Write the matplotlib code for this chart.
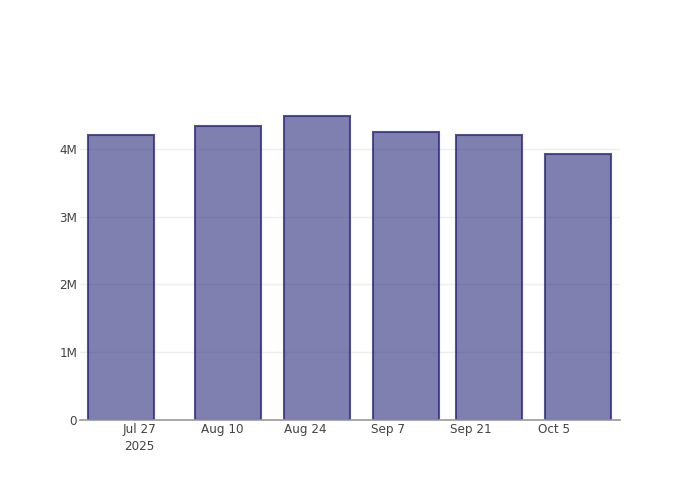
import matplotlib
matplotlib.use("Agg")
import matplotlib.pyplot as plt
import matplotlib.dates as mdates
import numpy as np
import datetime as dt

plt.rcParams['font.family'] = ['DejaVu Sans']

dates = ["2025-07-24", "2025-08-11", "2025-08-26", "2025-09-10", "2025-09-24", "2025-10-09"]
values = [4.20e6, 4.345e6, 4.48e6, 4.25e6, 4.21e6, 3.93e6]
tick_dates = ["2025-07-27", "2025-08-10", "2025-08-24", "2025-09-07", "2025-09-21", "2025-10-05"]
tick_labels = ["Jul 27\n2025", "Aug 10", "Aug 24", "Sep 7", "Sep 21", "Oct 5"]
y_ticks = [0, 1e6, 2e6, 3e6, 4e6]
y_labels = ["0", "1M", "2M", "3M", "4M"]

xd = [mdates.date2num(dt.datetime.strptime(d, "%Y-%m-%d")) for d in dates]
xt = [mdates.date2num(dt.datetime.strptime(d, "%Y-%m-%d")) for d in tick_dates]

fig = plt.figure(figsize=(7, 5), dpi=100)
ax = fig.add_axes([80/700, 80/500, 540/700, 320/500])

width = 0.8 * np.min(np.diff(xd))
ax.bar(xd, values, width=width, color=(42/255, 43/255, 123/255, 0.6),
       edgecolor=(42/255, 43/255, 123/255, 0.8), linewidth=1.5, zorder=3)

ax.set_xlim(xt[0] - 9.95, xt[0] + 81.1)
ax.set_ylim(0, 4.723e6)

ax.set_yticks(y_ticks)
ax.set_yticklabels(y_labels)
ax.set_xticks(xt)
ax.set_xticklabels(tick_labels)
for lab in ax.get_xticklabels():
    lab.set_linespacing(1.35)

ax.grid(axis='y', color='#eeeeee', linewidth=1, zorder=0)
for s in ['top', 'right', 'left']:
    ax.spines[s].set_visible(False)
ax.spines['bottom'].set_color('#999999')
ax.spines['bottom'].set_linewidth(1.2)
ax.spines['bottom'].set_zorder(4)
ax.tick_params(axis='both', length=0, colors='#444444', labelsize=8.64)
ax.tick_params(axis='x', pad=2.5)
ax.tick_params(axis='y', pad=2)

fig.savefig("out.png", dpi=100)
